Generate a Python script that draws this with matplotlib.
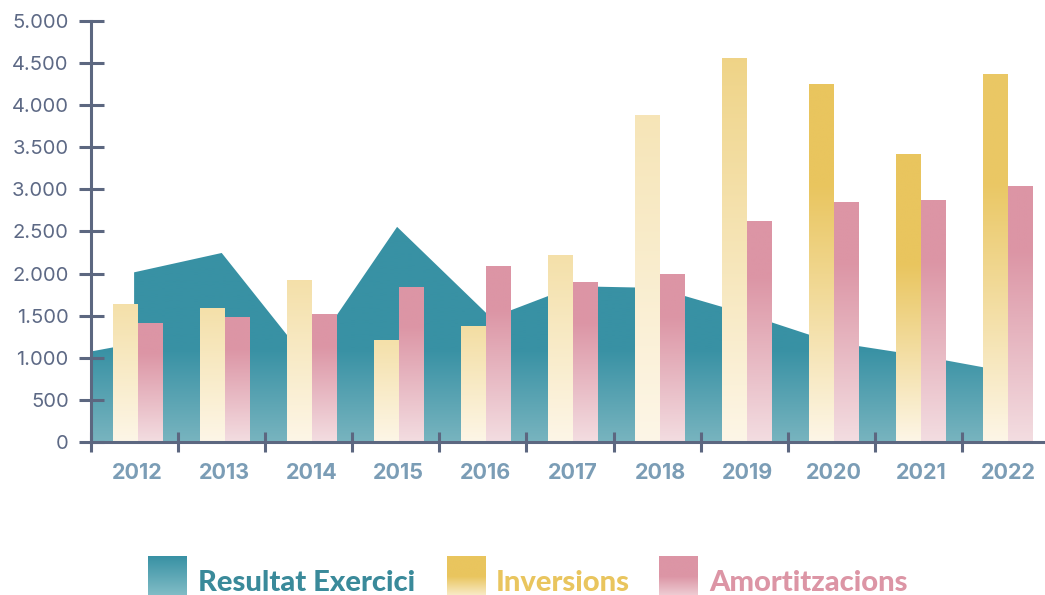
import numpy as np
import matplotlib
matplotlib.use('Agg')
import matplotlib.pyplot as plt
from matplotlib.colors import to_rgb
from matplotlib.patches import PathPatch

plt.rcParams['font.family'] = ['Inter', 'DejaVu Sans']

# --- dades ---
years = ['2012', '2013', '2014', '2015', '2016', '2017', '2018', '2019', '2020', '2021', '2022']
inversions = [1630, 1590, 1920, 1200, 1370, 2220, 3880, 4550, 4250, 3420, 4360]
amortitzacions = [1410, 1480, 1520, 1830, 2080, 1890, 1990, 2620, 2840, 2870, 3030]
# resultat: posicions (en unitats de categoria) i valors llegits del gràfic
resultat_x = [-0.535, -0.04, -0.04, 0.966, 1.94, 2.98, 4.06, 5.01, 5.965, 6.96, 7.96, 8.96, 9.96]
resultat_y = [1075, 1170, 2015, 2245, 980, 2555, 1475, 1850, 1830, 1530, 1190, 1030, 840]

# intensitat del degradat de cada barra d'inversions
inv_peak = [0.45, 0.45, 0.45, 0.45, 0.5, 0.45, 0.35, 0.7, 1.0, 1.0, 0.95]
inv_knee = [1, 1, 1, 1, 1, 1, 1, 1, 0.72, 0.62, 0.70]

TEAL, TEAL_LIGHT = '#3891a4', '#78b4bf'
YEL, YEL_PALE = '#e9c55e', '#fdf6e7'
PINK, PINK_PALE = '#dc95a5', '#f3dde1'
AXIS = '#5c6780'


def mix(c1, c2, t):
    a, b = np.array(to_rgb(c1)), np.array(to_rgb(c2))
    return a + (b - a) * t


def grad_rect(ax, x0, x1, y0, y1, stops, z=2, n=200):
    ys = np.linspace(y0, y1, n)
    sv = [s[0] for s in stops]
    cols = np.array([to_rgb(s[1]) for s in stops])
    img = np.zeros((n, 1, 3))
    for k in range(3):
        img[:, 0, k] = np.interp(ys, sv, cols[:, k])
    return ax.imshow(img, extent=[x0, x1, y0, y1], origin='lower', aspect='auto',
                     interpolation='bilinear', zorder=z)


fig = plt.figure(figsize=(10.45, 5.95), dpi=100)
ax = fig.add_axes([91 / 1045, 153 / 595, (1045 - 91) / 1045, 421 / 595])

x = np.arange(len(years))
w = 0.287

# àrea Resultat Exercici amb degradat
poly = ax.fill_between(resultat_x, resultat_y, 0, color='none', lw=0)
clip = PathPatch(poly.get_paths()[0], transform=ax.transData, facecolor='none', edgecolor='none')
ax.add_patch(clip)
im = grad_rect(ax, min(resultat_x), max(resultat_x), 0, max(resultat_y),
               [(0, TEAL_LIGHT), (1100, TEAL), (5000, TEAL)], z=1)
im.set_clip_path(clip)

# barres
bars_inv = ax.bar(x - w / 2, inversions, w, color='none', lw=0)
bars_am = ax.bar(x + w / 2, amortitzacions, w, color='none', lw=0)
for i, p in enumerate(bars_inv.patches):
    h = p.get_height()
    top = mix(YEL_PALE, YEL, inv_peak[i])
    grad_rect(ax, p.get_x(), p.get_x() + p.get_width(), 0, h,
              [(0, YEL_PALE), (inv_knee[i] * h, top), (h + 1, top)], z=3)
for p in bars_am.patches:
    h = p.get_height()
    grad_rect(ax, p.get_x(), p.get_x() + p.get_width(), 0, h,
              [(0, PINK_PALE), (0.75 * h, PINK), (h + 1, PINK)], z=3)

ax.set_xlim(-0.535, 10.42)
ax.set_ylim(0, 5000)

for s in ['top', 'right']:
    ax.spines[s].set_visible(False)
for s in ['left', 'bottom']:
    ax.spines[s].set_color(AXIS)
    ax.spines[s].set_linewidth(2.2)
    ax.spines[s].set_zorder(5)

yt = np.arange(0, 5001, 500)
ax.set_yticks(yt)
ax.set_yticklabels([f'{v:,}'.replace(',', '.') for v in yt])
ax.tick_params(axis='y', direction='inout', length=18, width=2.2, color=AXIS,
               labelsize=14.5, labelcolor='#5d6985', pad=7)

ax.set_xticks(x - 0.535)
ax.set_xticklabels([])
ax.set_xticks(x, minor=True)
ax.set_xticklabels(years, minor=True, fontweight='bold', fontsize=15.5, color='#7b9db6')
ax.tick_params(axis='x', which='major', direction='inout', length=15, width=2.2, color=AXIS)
ax.tick_params(axis='x', which='minor', length=0, pad=15)

# llegenda
legend = [
    (148, 'Resultat Exercici', [(0, '#8cc3cb'), (1, TEAL)], '#3a8a9a', 198),
    (447, 'Inversions', [(0, YEL_PALE), (0.55, YEL), (1, YEL)], YEL, 496),
    (659, 'Amortitzacions', [(0, PINK_PALE), (0.55, PINK), (1, PINK)], PINK, 709),
]
for sx, label, stops, tc, tx in legend:
    lax = fig.add_axes([sx / 1045, -6 / 595, 39 / 1045, 45 / 595])
    grad_rect(lax, 0, 1, 0, 1, stops)
    lax.set_xlim(0, 1)
    lax.set_ylim(0, 1)
    lax.axis('off')
    fig.text(tx / 1045, 4 / 595, label, color=tc, fontsize=21, fontweight='black',
             family=['Lato', 'DejaVu Sans'], va='baseline', ha='left')

fig.savefig('out.png', dpi=100)
